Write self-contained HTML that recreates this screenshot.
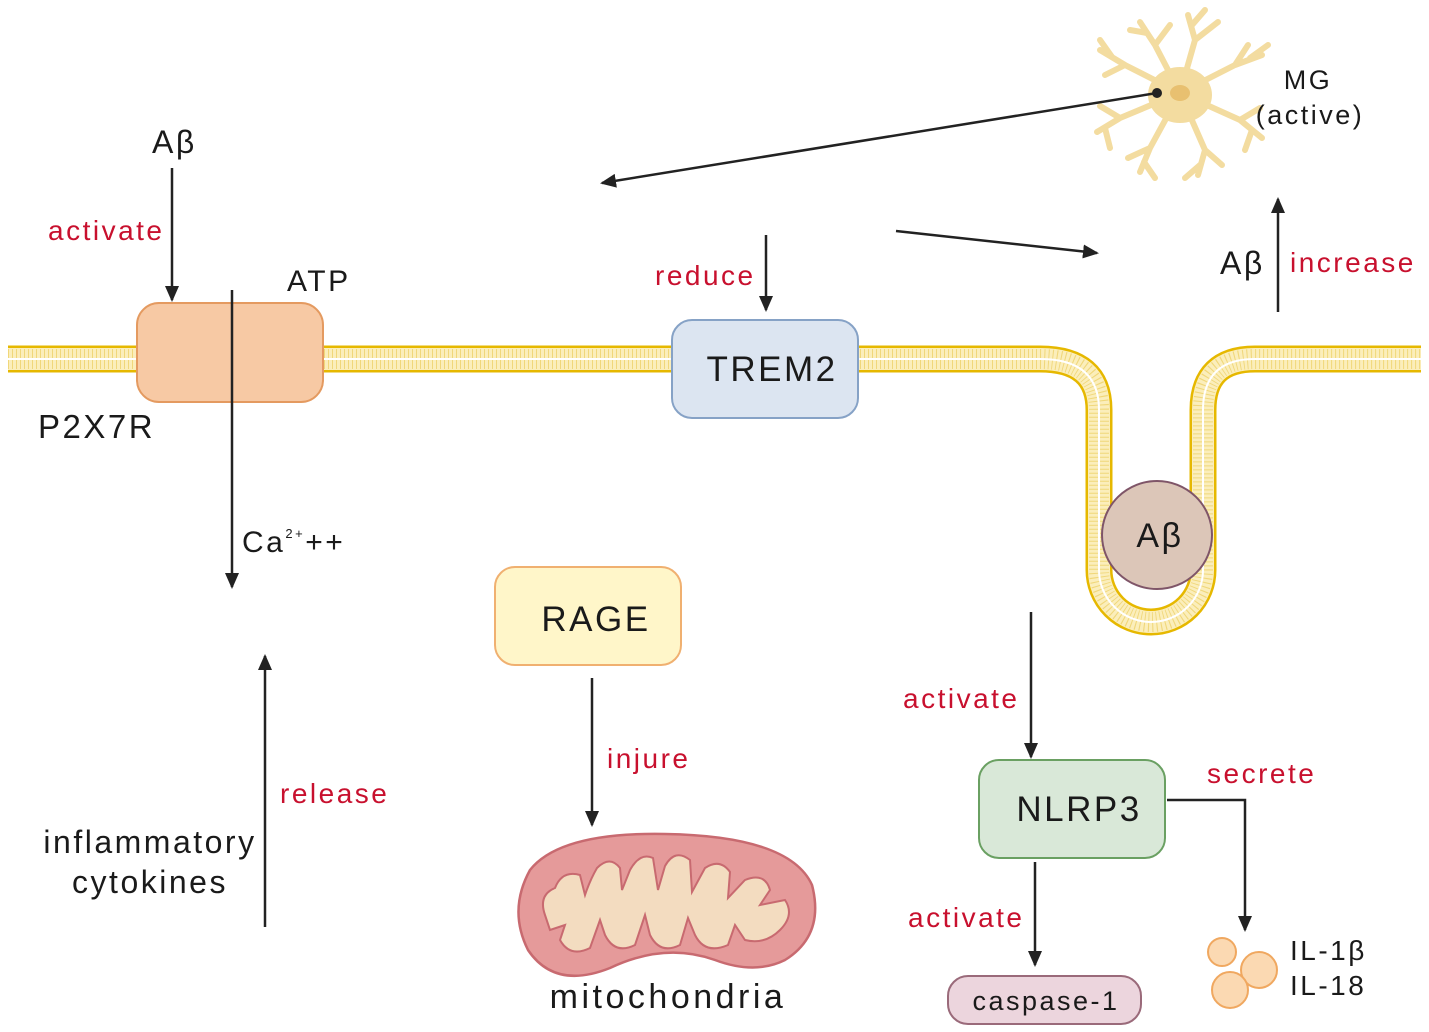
<!DOCTYPE html>
<html><head><meta charset="utf-8"><style>
html,body{margin:0;padding:0;background:#fff;}
svg{display:block;font-family:"Liberation Sans",Arial,sans-serif;}
text{letter-spacing:2.5px;}
.t{fill:#1a1a1a;}
.r{fill:#c8102e;}
</style></head><body>
<svg width="1429" height="1032" viewBox="0 0 1429 1032" xmlns="http://www.w3.org/2000/svg">
<defs>
<marker id="ah2" markerWidth="16" markerHeight="14" refX="14" refY="7" orient="auto" markerUnits="userSpaceOnUse">
<path d="M0,0 L16,7 L0,14 Z" fill="#222"/></marker>
</defs>
<!-- membrane -->
<path d="M8,359 L1040,359 Q1099,359 1099,410 L1099,570 A52,52 0 0 0 1203,570 L1203,410 Q1203,359 1255,359 L1421,359" fill="none" stroke="#e6b800" stroke-width="27"/>
<path d="M8,359 L1040,359 Q1099,359 1099,410 L1099,570 A52,52 0 0 0 1203,570 L1203,410 Q1203,359 1255,359 L1421,359" fill="none" stroke="#fbeebb" stroke-width="22"/>
<path d="M8,359 L1040,359 Q1099,359 1099,410 L1099,570 A52,52 0 0 0 1203,570 L1203,410 Q1203,359 1255,359 L1421,359" fill="none" stroke="#f0d77a" stroke-width="20" stroke-dasharray="1 3"/>
<path d="M8,359 L1040,359 Q1099,359 1099,410 L1099,570 A52,52 0 0 0 1203,570 L1203,410 Q1203,359 1255,359 L1421,359" fill="none" stroke="#fff" stroke-width="2"/>

<!-- P2X7R -->
<rect x="137" y="303" width="186" height="99" rx="22" fill="#f7c9a4" stroke="#e49a60" stroke-width="2"/>
<text x="38" y="438" font-size="33" class="t">P2X7R</text>
<text x="287" y="291" font-size="30" class="t">ATP</text>
<text x="152" y="153" font-size="32" class="t">Aβ</text>
<line x1="172" y1="168" x2="172" y2="300" stroke="#222" stroke-width="2.5" marker-end="url(#ah2)"/>
<text x="48" y="240" font-size="28" class="r">activate</text>
<line x1="232" y1="290" x2="232" y2="587" stroke="#222" stroke-width="2.5" marker-end="url(#ah2)"/>
<text x="242" y="552" font-size="30" class="t">Ca<tspan font-size="13" dy="-14">2+</tspan><tspan dy="14">++</tspan></text>

<!-- TREM2 -->
<rect x="672" y="320" width="186" height="98" rx="20" fill="#dce5f1" stroke="#86a2c6" stroke-width="2"/>
<text x="772" y="381" font-size="35" text-anchor="middle" class="t">TREM2</text>
<line x1="766" y1="235" x2="766" y2="310" stroke="#222" stroke-width="2.5" marker-end="url(#ah2)"/>
<text x="655" y="285" font-size="28" class="r">reduce</text>

<!-- microglia -->
<g stroke="#f3dca0" stroke-linecap="round" fill="none" stroke-width="6">
<path d="M1180,93 L1125,65 L1100,50 M1125,65 L1105,75 M1112,57 L1100,40"/>
<path d="M1180,93 L1155,45 L1140,22 M1155,45 L1170,25 M1147,33 L1130,30"/>
<path d="M1180,93 L1195,40 L1188,15 M1195,40 L1218,22 M1192,25 L1205,10"/>
<path d="M1180,93 L1235,65 L1262,55 M1235,65 L1248,45 M1250,58 L1268,45"/>
<path d="M1180,93 L1240,120 L1262,138 M1240,120 L1260,108 M1252,130 L1245,150"/>
<path d="M1180,93 L1205,150 L1198,175 M1205,150 L1222,165 M1200,165 L1185,178"/>
<path d="M1180,93 L1150,148 L1140,172 M1150,148 L1128,158 M1144,162 L1155,178"/>
<path d="M1180,93 L1120,118 L1097,132 M1120,118 L1100,106 M1105,128 L1110,148"/>
</g>
<ellipse cx="1180" cy="95" rx="32" ry="28" fill="#f3dca0"/>
<ellipse cx="1180" cy="93" rx="10" ry="8" fill="#e8c070"/>
<text x="1308" y="89" font-size="27" text-anchor="middle" class="t">MG</text>
<text x="1310" y="124" font-size="27" text-anchor="middle" class="t">(active)</text>
<line x1="1157" y1="93" x2="602" y2="183" stroke="#222" stroke-width="2.5" marker-end="url(#ah2)"/>
<circle cx="1157" cy="93" r="5" fill="#222"/>
<line x1="896" y1="231" x2="1097" y2="253" stroke="#222" stroke-width="2.5" marker-end="url(#ah2)"/>
<line x1="1278" y1="312" x2="1278" y2="199" stroke="#222" stroke-width="2.5" marker-end="url(#ah2)"/>
<text x="1220" y="274" font-size="32" class="t">Aβ</text>
<text x="1290" y="272" font-size="28" class="r">increase</text>

<!-- Abeta circle -->
<ellipse cx="1157" cy="535" rx="55" ry="54" fill="#dcc6b8" stroke="#7f5568" stroke-width="2"/>
<text x="1160" y="547" font-size="34" text-anchor="middle" class="t">Aβ</text>

<!-- RAGE -->
<rect x="495" y="567" width="186" height="98" rx="20" fill="#fff6c9" stroke="#f0b070" stroke-width="2"/>
<text x="596" y="631" font-size="35" text-anchor="middle" class="t">RAGE</text>
<line x1="592" y1="678" x2="592" y2="825" stroke="#222" stroke-width="2.5" marker-end="url(#ah2)"/>
<text x="607" y="768" font-size="28" class="r">injure</text>

<!-- mitochondria -->
<path d="M530,870 Q560,832 665,834 Q790,836 812,885 Q825,935 785,960 Q755,975 715,960 Q665,942 610,968 Q555,990 528,950 Q508,910 530,870 Z" fill="#e59a9a" stroke="#c86a70" stroke-width="2.5"/>
<path d="M545,915 Q538,895 555,888 Q562,870 580,875 L585,895 Q590,880 597,868 Q610,855 620,868 L622,890 L630,870 Q640,852 653,858 L658,890 L665,866 Q675,848 690,860 L692,892 L705,868 Q720,858 730,872 L728,898 L745,880 Q765,872 770,890 L760,905 L785,900 Q795,915 780,930 Q765,945 745,940 L735,925 L728,945 Q705,955 695,935 L688,918 L680,945 Q660,955 650,935 L645,915 L635,945 Q615,955 605,935 L600,920 L590,948 Q570,958 560,940 L565,925 L550,930 Z" fill="#f3dcc0" stroke="#c86a70" stroke-width="2"/>
<text x="668" y="1008" font-size="34" text-anchor="middle" class="t" style="letter-spacing:3.5px">mitochondria</text>

<!-- release -->
<line x1="265" y1="927" x2="265" y2="656" stroke="#222" stroke-width="2.5" marker-end="url(#ah2)"/>
<text x="280" y="803" font-size="28" class="r">release</text>
<text x="150" y="853" font-size="32" text-anchor="middle" class="t">inflammatory</text>
<text x="150" y="893" font-size="32" text-anchor="middle" class="t">cytokines</text>

<!-- NLRP3 -->
<line x1="1031" y1="612" x2="1031" y2="757" stroke="#222" stroke-width="2.5" marker-end="url(#ah2)"/>
<text x="903" y="708" font-size="28" class="r">activate</text>
<rect x="979" y="760" width="186" height="98" rx="20" fill="#d9e8d8" stroke="#6aa062" stroke-width="2"/>
<text x="1079" y="821" font-size="35" text-anchor="middle" class="t">NLRP3</text>
<polyline points="1167,800 1245,800 1245,930" fill="none" stroke="#222" stroke-width="2.5" marker-end="url(#ah2)"/>
<text x="1207" y="783" font-size="28" class="r">secrete</text>
<line x1="1035" y1="862" x2="1035" y2="965" stroke="#222" stroke-width="2.5" marker-end="url(#ah2)"/>
<text x="908" y="927" font-size="28" class="r">activate</text>
<rect x="948" y="976" width="193" height="48" rx="20" fill="#ecd5dd" stroke="#9a6a7a" stroke-width="2"/>
<text x="1046" y="1010" font-size="27" text-anchor="middle" class="t">caspase-1</text>
<circle cx="1222" cy="952" r="14" fill="#fbd9b2" stroke="#f0a860" stroke-width="2"/>
<circle cx="1259" cy="970" r="18" fill="#fbd9b2" stroke="#f0a860" stroke-width="2"/>
<circle cx="1230" cy="990" r="18" fill="#fbd9b2" stroke="#f0a860" stroke-width="2"/>
<text x="1290" y="960" font-size="28" class="t">IL-1β</text>
<text x="1290" y="995" font-size="28" class="t">IL-18</text>
</svg>
</body></html>
